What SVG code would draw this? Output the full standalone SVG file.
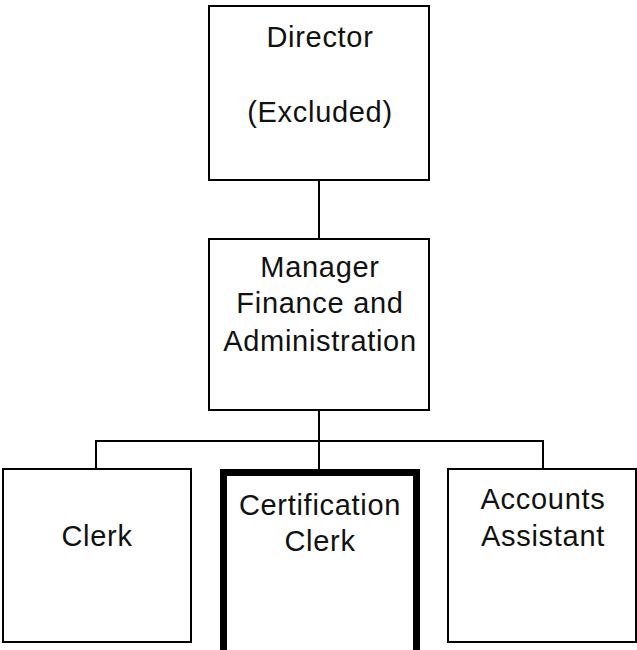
<svg xmlns="http://www.w3.org/2000/svg" width="637" height="650" viewBox="0 0 637 650">
<style>
.box{fill:#fff;stroke:#000;stroke-width:2}
.thick{fill:#fff;stroke:#000;stroke-width:7}
.t{font-family:"Liberation Sans",Arial,sans-serif;font-size:29px;letter-spacing:0.7px;fill:#111;text-anchor:middle}
.c{fill:none;stroke:#000;stroke-width:2}
</style>
<rect width="637" height="650" fill="#fff"/>
<g id="connectors">
<line class="c" x1="319" y1="180" x2="319" y2="239"/>
<line class="c" x1="319" y1="410" x2="319" y2="469"/>
<polyline class="c" points="96,469 96,441 543,441 543,469"/>
</g>
<g id="director">
<rect class="box" x="209" y="6" width="220" height="174"/>
<text class="t" x="320" y="47">Director</text>
<text class="t" x="320" y="122">(Excluded)</text>
</g>
<g id="manager">
<rect class="box" x="209" y="239" width="220" height="171"/>
<text class="t" x="320" y="277">Manager</text>
<text class="t" x="320" y="313">Finance and</text>
<text class="t" x="320" y="351">Administration</text>
</g>
<g id="clerk">
<rect class="box" x="3" y="469" width="188" height="173"/>
<text class="t" x="97" y="546">Clerk</text>
</g>
<g id="certification-clerk">
<rect class="thick" x="223.5" y="472.5" width="193" height="185"/>
<text class="t" x="320" y="515">Certification</text>
<text class="t" x="320" y="551">Clerk</text>
</g>
<g id="accounts-assistant">
<rect class="box" x="448" y="469" width="188" height="173"/>
<text class="t" x="543" y="509">Accounts</text>
<text class="t" x="543" y="546">Assistant</text>
</g>
</svg>
